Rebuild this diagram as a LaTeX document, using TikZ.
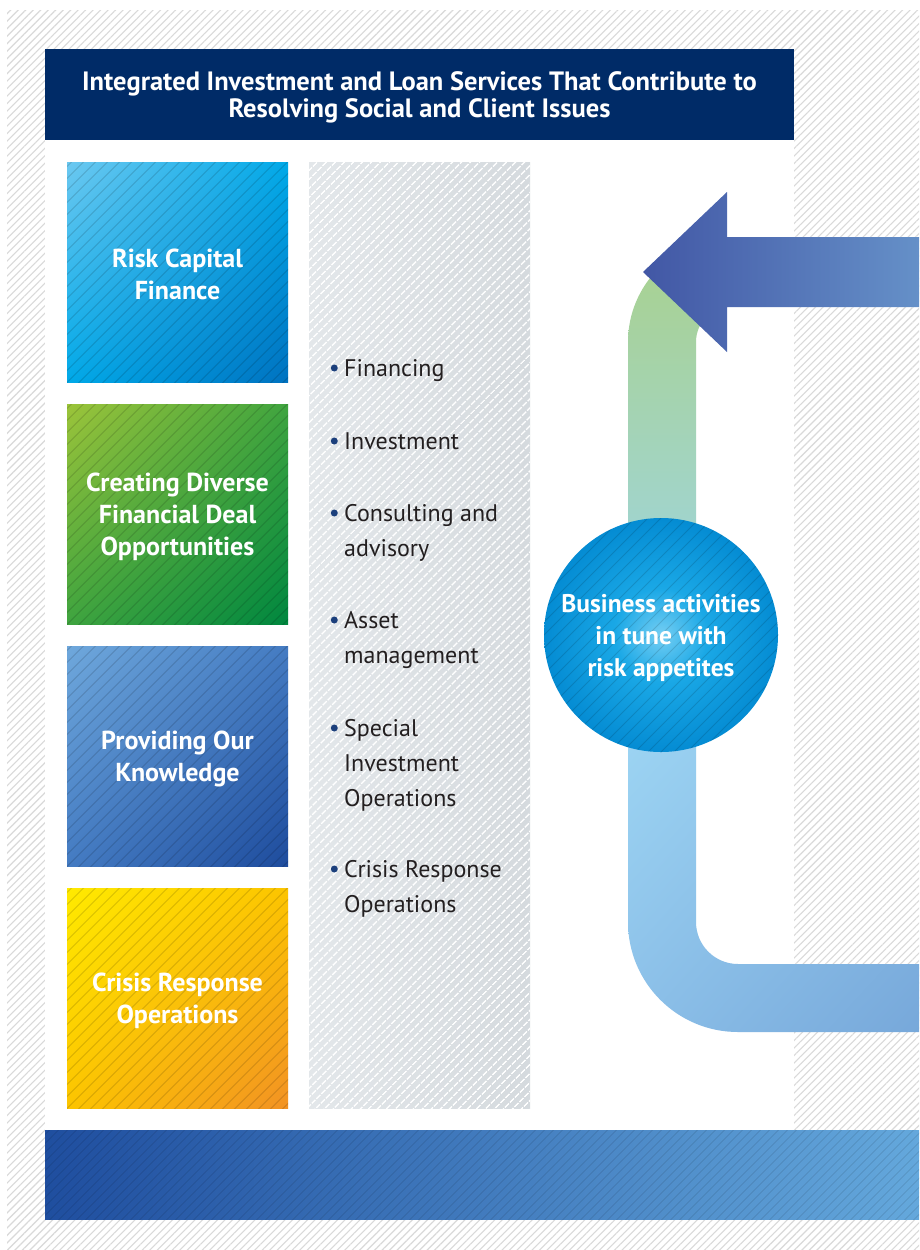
\documentclass[tikz,border=0pt]{standalone}
\usepackage{fontspec}
\setmainfont{PT Sans}
\usetikzlibrary{positioning}
\usetikzlibrary{calc}
\usetikzlibrary{shadings}
\usetikzlibrary{patterns.meta}

\definecolor{navy}{HTML}{002B67}
\definecolor{hatchgray}{HTML}{D9D9D9}
\definecolor{itemgray}{HTML}{231F20}
\definecolor{dotblue}{HTML}{1B3F7C}
\definecolor{colL}{HTML}{E3E7EA}
\definecolor{colR}{HTML}{D5DADE}
\definecolor{riskA}{HTML}{6CC8F0}
\definecolor{riskB}{HTML}{00A9E8}
\definecolor{riskC}{HTML}{0072C0}
\definecolor{dealA}{HTML}{9CC43A}
\definecolor{dealB}{HTML}{3FA43F}
\definecolor{dealC}{HTML}{00873F}
\definecolor{knowA}{HTML}{6FA8DC}
\definecolor{knowB}{HTML}{447BC2}
\definecolor{knowC}{HTML}{1E4C9D}
\definecolor{crisA}{HTML}{FFEA00}
\definecolor{crisB}{HTML}{FCC400}
\definecolor{crisC}{HTML}{F29224}
\definecolor{pipeG}{HTML}{A9D18C}
\definecolor{pipeT}{HTML}{A0D5D4}
\definecolor{pipeA}{HTML}{9DD5F3}
\definecolor{pipeB}{HTML}{8BBFE8}
\definecolor{pipeC}{HTML}{77A8DA}
\definecolor{arrowL}{HTML}{4257A5}
\definecolor{arrowR}{HTML}{6590C8}
\definecolor{barL}{HTML}{1F4E9F}
\definecolor{barR}{HTML}{64A8DC}
\definecolor{hubA}{HTML}{74CEF3}
\definecolor{hubB}{HTML}{1AA8E6}
\definecolor{hubC}{HTML}{0086CF}
\definecolor{hubD}{HTML}{0067B3}

\pgfdeclareradialshading{hubglow}{\pgfpoint{0bp}{0bp}}{color(0bp)=(hubA); color(10bp)=(hubB); color(28bp)=(hubC); color(50bp)=(hubD)}

\newcommand{\stack}[1]{\begin{tabular}[t]{@{}l@{}}#1\end{tabular}}

\tikzset{
	hatchover/.style n args={2}{path picture={
		\foreach \k in {-60,...,60}
			\draw[black, opacity=#2, line width=0.9pt] ($(path picture bounding box.center)+(\k*#1-500,500)$) -- ++(1000,-1000);
	}},
	tile/.style={minimum width=221pt, minimum height=220pt, inner sep=0pt, hatchover={12}{0.15}},
	tilelabel/.style={text=white, align=center, font=\bfseries\fontsize{26}{32}\selectfont},
	item/.style={anchor=base west, text=itemgray, font=\fontsize{24}{35}\selectfont, inner sep=0pt},
	dot/.style={circle, fill=dotblue, inner sep=0pt, minimum size=7pt}
}

\begin{document}
\begin{tikzpicture}[x=1pt, y=-1pt]
	\useasboundingbox (0,0) rectangle (919,1250);
	% backdrop
	\fill[white] (0,0) rectangle (919,1250);
	\fill[pattern={Lines[angle=45,distance=5.3pt,line width=1.1pt]}, pattern color=hatchgray] (7,10) rectangle (919,1250);
	\fill[white] (45,49) rectangle (794,1130);

	\node[fill=navy, minimum width=749pt, minimum height=91pt] (header) at (419.5,94.5) {};
	\node[text=white, align=center, font=\bfseries\fontsize{26.5}{27}\selectfont] (title) at ([yshift=-3pt]header.center)
		{Integrated Investment and Loan Services That Contribute to\\Resolving Social and Client Issues};

	% four tiles
	\node[tile, upper left=riskA, upper right=riskB, lower left=riskB, lower right=riskC] (risk) at (177.5,272) {};
	\node[tile, upper left=dealA, upper right=dealB, lower left=dealB, lower right=dealC] (deal) at (177.5,514) {};
	\node[tile, upper left=knowA, upper right=knowB, lower left=knowB, lower right=knowC] (know) at (177.5,756) {};
	\node[tile, upper left=crisA, upper right=crisB, lower left=crisB, lower right=crisC] (crisis) at (177.5,998) {};
	\node[tilelabel] (risk-txt) at ([yshift=-2pt]risk.center) {Risk Capital\\Finance};
	\node[tilelabel] (deal-txt) at ([yshift=-3pt]deal.center) {Creating Diverse\\Financial Deal\\Opportunities};
	\node[tilelabel] (know-txt) at ([yshift=-3pt]know.center) {Providing Our\\Knowledge};
	\node[tilelabel] (crisis-txt) at ([yshift=-3pt]crisis.center) {Crisis Response\\Operations};

	% service column
	\node[minimum width=221pt, minimum height=946pt, inner sep=0pt, left color=colL, right color=colR,
		postaction={pattern={Lines[angle=45,distance=6.4pt,line width=1.6pt]}, pattern color=white}] (services) at (419.5,635) {};
	\node[item] (fin) at (344,376) {Financing};
	\node[item] (inv) at (344,449) {Investment};
	\node[item] (con) at (344,521) {\stack{Consulting and\\advisory}};
	\node[item] (asset) at (344,628) {\stack{Asset\\management}};
	\node[item] (special) at (344,736) {\stack{Special\\Investment\\Operations}};
	\node[item] (crisisop) at (344,877) {\stack{Crisis Response\\Operations}};
	\foreach \n in {fin,inv,con,asset,special,crisisop}
		\node[dot, left=6pt of \n.base west, yshift=8pt] (dot-\n) {};

	% pipes round the hub
	\shade[top color=pipeG, bottom color=pipeT] (628,560) -- (628,342) arc[start angle=180, end angle=270, radius=104]
		-- (780,238) -- (780,306) -- (732,306) arc[start angle=270, end angle=180, radius=36] -- (696,560) -- cycle;
	\shade[upper left=pipeA, upper right=pipeB, lower left=pipeB, lower right=pipeC] (628,720) -- (628,922)
		arc[start angle=180, end angle=90, radius=110] -- (919,1032) -- (919,964) -- (738,964)
		arc[start angle=90, end angle=180, radius=42] -- (696,720) -- cycle;
	\shade[left color=arrowL, right color=arrowR] (643,272) -- (727,192) -- (727,237) -- (919,237)
		-- (919,307) -- (727,307) -- (727,352) -- cycle;

	\node[circle, minimum size=234pt, inner sep=0pt, shading=hubglow, hatchover={13}{0.13}] (hub) at (661,635) {};
	\node[text=white, align=center, font=\bfseries\fontsize{25.5}{32}\selectfont] (hub-txt) at ([yshift=-3pt]hub.center)
		{Business activities\\in tune with\\risk appetites};

	% bottom band
	\shade[left color=barL, right color=barR, hatchover={9}{0.1}] (45,1130) rectangle (919,1219);
\end{tikzpicture}
\end{document}
